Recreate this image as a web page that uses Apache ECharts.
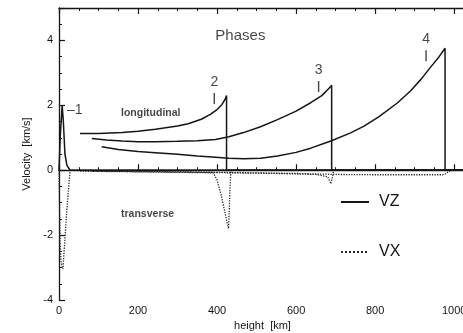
<!DOCTYPE html>
<html>
<head>
<meta charset="utf-8">
<script src="https://cdn.jsdelivr.net/npm/echarts@6/dist/echarts.min.js"></script>
<style>
  html, body { margin: 0; padding: 0; background: #ffffff; }
  #chart { width: 463px; height: 333px; }
</style>
</head>
<body>
<div id="chart"></div>
<script>
// ---- data (height in km, velocity in km/s) ----
const vz1X = [0, 3, 8, 11, 15, 20, 28, 1030];
const vz1Y = [0, 1.0, 2.0, 1.5, 0.5, 0.15, 0, 0];
const vx1X = [0, 1, 2, 3, 5, 10, 14, 20, 24, 28, 1030];
const vx1Y = [0, -0.8, -1.6, -2.3, -2.8, -3.05, -2.3, -1.2, -0.6, 0, 0];

const vz2X = [53, 100, 160, 200, 244, 300, 327, 360, 383, 400, 412, 420, 424, 424, 1030];
const vz2Y = [1.13, 1.13, 1.16, 1.2, 1.26, 1.36, 1.43, 1.57, 1.72, 1.87, 2.02, 2.18, 2.3, 0, 0];
const vx2X = [53, 200, 390, 400, 410, 420, 426, 429, 431, 433, 435, 1030];
const vx2Y = [-0.03, -0.05, -0.08, -0.3, -0.75, -1.3, -1.65, -1.8, -1.2, -0.5, 0, 0];

const vz3X = [83, 120, 160, 200, 244, 300, 350, 396, 430, 467, 510, 553, 600, 637, 665, 683, 690, 690, 1030];
const vz3Y = [0.98, 0.93, 0.9, 0.88, 0.88, 0.89, 0.91, 0.95, 1.03, 1.16, 1.34, 1.56, 1.82, 2.08, 2.3, 2.52, 2.62, 0, 0];
const vx3X = [83, 200, 300, 434, 550, 650, 680, 688, 692, 695, 1030];
const vx3Y = [-0.03, -0.04, -0.05, -0.08, -0.1, -0.13, -0.2, -0.42, -0.2, 0, 0];

const vz4X = [108, 150, 200, 244, 300, 350, 396, 430, 467, 510, 553, 600, 637, 688, 738, 772, 810, 857, 890, 916, 942, 962, 977, 977, 1030];
const vz4Y = [0.72, 0.64, 0.58, 0.54, 0.49, 0.44, 0.40, 0.37, 0.35, 0.37, 0.44, 0.55, 0.68, 0.9, 1.15, 1.36, 1.65, 2.08, 2.45, 2.8, 3.2, 3.5, 3.76, 0, 0];
const vx4X = [108, 300, 434, 600, 700, 800, 900, 970, 977, 984, 992, 1030];
const vx4Y = [-0.03, -0.05, -0.07, -0.1, -0.13, -0.14, -0.14, -0.14, -0.12, -0.06, 0, 0];

// phase markers
const phaseNames = ['2', '3', '4'];
const phaseTickX = [393, 657, 929];
const phaseTickY = [2.21, 2.58, 3.53];

// text notes (data coordinates)
const noteTexts = ['Phases', 'longitudinal', 'transverse', '\u20131'];
const noteX = [459, 157, 157, 20];
const noteY = [4.14, 1.75, -1.35, 1.84];

const xTicks = [0, 200, 400, 600, 800, 1000];
const yTicks = [-4, -2, 0, 2, 4];

function pairs(xs, ys) { return xs.map((x, i) => [x, ys[i]]); }

const INK = '#151515';
const FONT = '"Liberation Sans", Arial, sans-serif';

const vzStyle = { color: INK, width: 1.5, type: 'solid' };
const vxStyle = { color: '#2a2a2a', width: 1.3, type: 'dotted' };

function lineSeries(name, xs, ys, style) {
  return {
    name: name, type: 'line', data: pairs(xs, ys),
    symbol: 'none', smooth: false, animation: false,
    lineStyle: style, itemStyle: { color: style.color },
    emphasis: { disabled: true }, z: name === 'VZ' ? 3 : 2
  };
}

const noteStyles = [
  { fontSize: 15, fontWeight: 'normal', align: 'center' },
  { fontSize: 10.5, fontWeight: 'bold', align: 'left' },
  { fontSize: 10.5, fontWeight: 'bold', align: 'left' },
  { fontSize: 14, fontWeight: 'normal', align: 'left' }
];

const annotationSeries = {
  name: 'notes', type: 'scatter', animation: false, silent: true, z: 5,
  data: noteTexts.map((t, i) => ({
    value: [noteX[i], noteY[i]],
    symbol: 'circle', symbolSize: 0.01,
    label: {
      show: true, position: 'inside', formatter: t,
      color: INK, fontFamily: FONT,
      fontSize: noteStyles[i].fontSize, fontWeight: noteStyles[i].fontWeight,
      align: noteStyles[i].align, verticalAlign: 'middle'
    }
  }))
};

const phaseSeries = {
  name: 'phases', type: 'scatter', animation: false, silent: true, z: 5,
  data: phaseNames.map((n, i) => ({
    value: [phaseTickX[i], phaseTickY[i]],
    symbol: 'rect', symbolSize: [1.4, 11],
    itemStyle: { color: INK },
    label: {
      show: true, position: 'top', distance: 4, formatter: n,
      color: INK, fontFamily: FONT, fontSize: 14
    }
  }))
};

const chart = echarts.init(document.getElementById('chart'), null, { renderer: 'canvas' });

const axisCommon = {
  type: 'value', min: 0, max: 1030, interval: 200,
  axisLine: { show: true, lineStyle: { color: INK, width: 1.3 } },
  axisTick: { show: true, inside: true, length: 6, lineStyle: { color: INK, width: 1.2 } },
  minorTick: { show: true, splitNumber: 4, length: 3, lineStyle: { color: INK, width: 1 } },
  splitLine: { show: false }, minorSplitLine: { show: false }
};

chart.setOption({
  backgroundColor: '#ffffff',
  animation: false,
  grid: { left: 59, right: -3, top: 8, bottom: 33, containLabel: false, outerBoundsMode: 'none' },
  legend: {
    data: ['VZ', 'VX'], orient: 'vertical', left: 335, top: 189,
    itemWidth: 28, itemHeight: 14, itemGap: 34,
    itemStyle: { opacity: 0 },
    textStyle: { fontFamily: FONT, fontSize: 16, color: INK, padding: [10, 0, 0, 5] },
    selectedMode: false
  },
  xAxis: [
    Object.assign({}, axisCommon, {
      position: 'bottom',
      name: 'height  [km]', nameLocation: 'middle', nameGap: 20,
      nameTextStyle: { fontFamily: FONT, fontSize: 11, color: INK },
      axisLabel: {
        show: true, margin: 5, fontFamily: FONT, fontSize: 11, color: INK,
        formatter: v => (xTicks.indexOf(v) >= 0 ? String(v) : '')
      }
    }),
    Object.assign({}, axisCommon, {
      position: 'top', axisLabel: { show: false }
    })
  ],
  yAxis: {
    type: 'value', min: -4, max: 5, interval: 2,
    name: 'Velocity  [km/s]', nameLocation: 'middle', nameGap: 26, nameRotate: 90,
    nameTextStyle: { fontFamily: FONT, fontSize: 11, color: INK },
    axisLine: { show: true, lineStyle: { color: INK, width: 1.3 } },
    axisTick: { show: true, inside: true, length: 6, lineStyle: { color: INK, width: 1.2 } },
    minorTick: { show: true, splitNumber: 4, length: 3, lineStyle: { color: INK, width: 1 } },
    splitLine: { show: false },
    axisLabel: {
      margin: 6, fontFamily: FONT, fontSize: 11, color: INK,
      formatter: v => (yTicks.indexOf(v) >= 0 ? String(v) : '')
    }
  },
  series: [
    lineSeries('VZ', vz1X, vz1Y, vzStyle),
    lineSeries('VX', vx1X, vx1Y, vxStyle),
    lineSeries('VZ', vz2X, vz2Y, vzStyle),
    lineSeries('VX', vx2X, vx2Y, vxStyle),
    lineSeries('VZ', vz3X, vz3Y, vzStyle),
    lineSeries('VX', vx3X, vx3Y, vxStyle),
    lineSeries('VZ', vz4X, vz4Y, vzStyle),
    lineSeries('VX', vx4X, vx4Y, vxStyle),
    annotationSeries,
    phaseSeries
  ]
});
</script>
</body>
</html>
